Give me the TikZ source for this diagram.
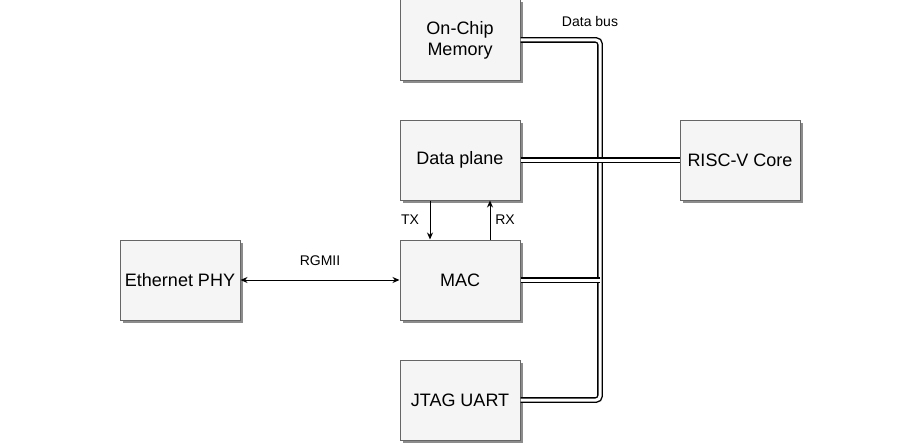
\documentclass[tikz,border=0pt]{standalone}
\usepackage{fontspec}
\setmainfont{Liberation Sans}
\usetikzlibrary{arrows.meta}
\usetikzlibrary{shadows}
\tikzset{x=1pt,y=-1pt,
    every node/.style={
        font=\fontsize{14}{16}\selectfont},
    block/.style={
        draw=black!60,
        line width=1pt,
        fill=black!4,
        minimum width=120pt,
        minimum height=80pt,
        inner sep=0pt,
        align=center,
        font=\fontsize{18}{21}\selectfont,
        drop shadow={shadow xshift=2.5pt,shadow yshift=-2.5pt,fill=black!45,opacity=1}},
    bus/.style={
        draw,
        line width=1.4pt,
        double=white,
        double distance=3pt,
        rounded corners=4pt},
    sig/.style={
        draw,
        line width=1pt,
        >={Stealth[length=7pt,width=6pt]}}}

\begin{document}
\begin{tikzpicture}
        \useasboundingbox (0,0) rectangle (917,444);

        \node[block] (mem) at (460,40) {On-Chip\\Memory};
        \node[block] (dp) at (460,160) {Data plane};
        \node[block] (core) at (740,160) {RISC-V Core};
        \node[block] (phy) at (180,280) {Ethernet PHY};
        \node[block] (mac) at (460,280) {MAC};
        \node[block] (jtag) at (460,400) {JTAG UART};

        \coordinate (tap) at (600,280);
        \node (buslabel) at (590,21) {Data bus};

        \draw[bus] (mem.east) -| (tap) |- (jtag.east);
        \draw[bus] (mac.east) -- (tap);
        \draw[bus] (dp.east) -- (core.west);

        \draw[sig,->] ([xshift=-30pt]dp.south) -- ([xshift=-30pt]mac.north) node[midway,xshift=-20pt] {TX};
        \draw[sig,->] ([xshift=30pt]mac.north) -- ([xshift=30pt]dp.south) node[midway,xshift=15pt] {RX};
        \draw[sig,<->] (phy.east) -- (mac.west) node[midway,yshift=19pt] {RGMII};
    \end{tikzpicture}
\end{document}
